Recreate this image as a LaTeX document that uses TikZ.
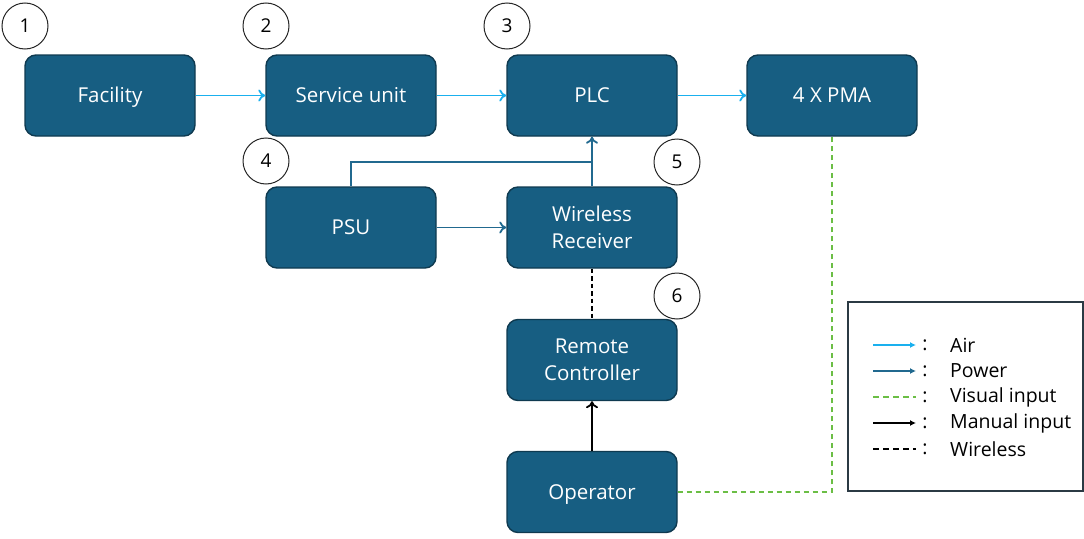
\documentclass[tikz,border=0pt]{standalone}
\usepackage{fontspec}
\setmainfont{Open Sans}
\usetikzlibrary{arrows.meta}
\definecolor{boxfill}{HTML}{175E82}
\definecolor{boxline}{HTML}{0F3A50}
\definecolor{airc}{HTML}{1AB0EE}
\definecolor{powerc}{HTML}{21698F}
\definecolor{visc}{HTML}{6BBE45}
\definecolor{legline}{HTML}{2B3A44}
\begin{document}
\begin{tikzpicture}[x=1pt,y=-1pt,
  blk/.style={draw=boxline, line width=1.4pt, fill=boxfill, rounded corners=11pt,
    minimum width=170pt, minimum height=81pt, text=white, align=center,
    font=\fontsize{20.5}{27}\selectfont, inner sep=0pt},
  oneline/.style={text height=14.6pt, text depth=0pt},
  num/.style={draw=black!85, line width=1pt, circle, minimum size=46pt, inner sep=0pt,
    font=\fontsize{19}{22}\selectfont},
  air/.style={draw=airc, line width=1.8pt, -{To[length=7pt,width=12pt]}},
  power/.style={draw=powerc, line width=1.8pt, -{To[length=7pt,width=12pt]}},
  manual/.style={draw=black, line width=1.8pt, -{To[length=7pt,width=12pt]}},
  wless/.style={draw=black, line width=1.6pt, dash pattern=on 4.5pt off 3pt},
  visual/.style={draw=visc, line width=2pt, dash pattern=on 5.5pt off 3.5pt},
  legtxt/.style={anchor=west, font=\fontsize{19.5}{22}\selectfont, inner sep=0pt},
  colon/.style={anchor=center, font=\fontsize{19.5}{22}\selectfont, inner sep=0pt}
]
\useasboundingbox (0,0) rectangle (1084,538);

% blocks
\node[blk, oneline] (fac) at (110,95.5) {Facility};
\node[blk, oneline] (svc) at (351,95.5) {Service unit};
\node[blk, oneline] (plc) at (592,95.5) {PLC};
\node[blk, oneline] (pma) at (832,95.5) {4 X PMA};
\node[blk, oneline] (psu) at (351,227.5) {PSU};
\node[blk] (wr) at (592,227.5) {Wireless\\Receiver};
\node[blk] (rc) at (592,360) {Remote\\Controller};
\node[blk, oneline] (op) at (592,492) {Operator};

% numbers
\node[num] (n1) at (25,26) {1};
\node[num] (n2) at (266,26) {2};
\node[num] (n3) at (507,26) {3};
\node[num] (n4) at (266,161) {4};
\node[num] (n5) at (677,162) {5};
\node[num] (n6) at (677,296) {6};

% connectors
\draw[air] (fac.east) -- (svc.west);
\draw[air] (svc.east) -- (plc.west);
\draw[air] (plc.east) -- (pma.west);
\draw[power] (psu.east) -- (wr.west);
\coordinate (j) at (592,162);
\draw[power, -] (psu.north) |- (j);
\draw[power] (wr.north) -- (plc.south);
\draw[wless] (wr.south) -- (rc.north);
\draw[manual] (op.north) -- (rc.south);
\coordinate (vc) at (832,492);
\draw[visual] (op.east) -- (vc) -- (pma.south);

% legend
\node[draw=legline, line width=1.2pt, minimum width=235pt, minimum height=189pt, inner sep=0pt] (leg) at (965.5,396.5) {};
\coordinate (l1a) at (873,345); \coordinate (l1b) at (916,345);
\coordinate (l2a) at (873,371); \coordinate (l2b) at (916,371);
\coordinate (l3a) at (873,397); \coordinate (l3b) at (916,397);
\coordinate (l4a) at (873,423); \coordinate (l4b) at (916,423);
\coordinate (l5a) at (873,449); \coordinate (l5b) at (916,449);
\draw[draw=airc, line width=1.5pt, -{Latex[length=6pt,width=6pt]}] (l1a) -- (l1b);
\draw[draw=powerc, line width=1.5pt, -{Latex[length=6pt,width=6pt]}] (l2a) -- (l2b);
\draw[draw=visc, line width=1.5pt, dash pattern=on 6pt off 4pt] (l3a) -- (l3b);
\draw[draw=black, line width=1.5pt, -{Latex[length=6pt,width=6pt]}] (l4a) -- (l4b);
\draw[draw=black, line width=1.5pt, dash pattern=on 6pt off 4pt] (l5a) -- (l5b);
\foreach \y in {345,371,397,423,449} \node[colon] at (925,\y) {:};
\node[legtxt] (t1) at (950,345) {Air};
\node[legtxt] (t2) at (950,371) {Power};
\node[legtxt] (t3) at (950,397) {Visual input};
\node[legtxt] (t4) at (950,423) {Manual input};
\node[legtxt] (t5) at (950,449) {Wireless};
\end{tikzpicture}
\end{document}
